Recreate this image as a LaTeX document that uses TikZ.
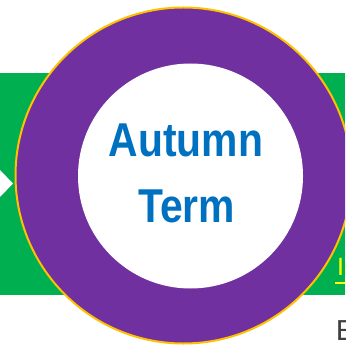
\documentclass[tikz,border=0pt]{standalone}
\usepackage{fontspec}
\setmainfont{Liberation Sans}
\newfontfamily\termfont{Liberation Sans}[FakeStretch=0.86]
\newfontfamily\notefont{Carlito}
\usepackage{tikz}
\usetikzlibrary{calc}

\definecolor{bandgreen}{HTML}{00B050}
\definecolor{ringpurple}{HTML}{7030A0}
\definecolor{ringgold}{HTML}{FFC000}
\definecolor{termblue}{HTML}{0070C0}
\definecolor{linkyellow}{HTML}{FFFF00}
\definecolor{notegrey}{HTML}{404040}

\begin{document}
\begin{tikzpicture}[x=1pt,y=-1pt]
        \useasboundingbox (0,0) rectangle (345,347);
        \clip (0,0) rectangle (345,347);

        % Draw the green band
        \fill[bandgreen] (0,73) rectangle (345,295);

        % Draw the arrow tip on the left
        \fill[white] (0,170) -- (13,183.5) -- (0,197) -- cycle;

        % Draw the ring
        \filldraw[fill=ringpurple, draw=ringgold, line width=2pt] (183.5,175.5) circle (168pt);
        \fill[white] (190.5,176) circle (112.5pt);

        % Label the term
        \node[anchor=base, inner sep=0pt, text=termblue, font=\termfont\bfseries\fontsize{47.5}{57}\selectfont] (autumn) at (186,157) {Autumn};
        \node[anchor=base, inner sep=0pt, text=termblue, font=\termfont\bfseries\fontsize{47.5}{57}\selectfont] (term) at (186.5,222) {Term};

        % Label the cut-off texts on the right
        \node[anchor=base west, inner sep=0pt, text=linkyellow, font=\fontsize{25}{30}\selectfont] (link) at (337,275) {In};
        \draw[linkyellow, line width=2pt] ([xshift=-2pt, yshift=-8pt]link.base west) -- ([yshift=-8pt]link.base east);
        \node[anchor=base west, inner sep=0pt, text=notegrey, font=\notefont\fontsize{31}{37}\selectfont] (note) at (336,340) {E};

    \end{tikzpicture}
\end{document}
